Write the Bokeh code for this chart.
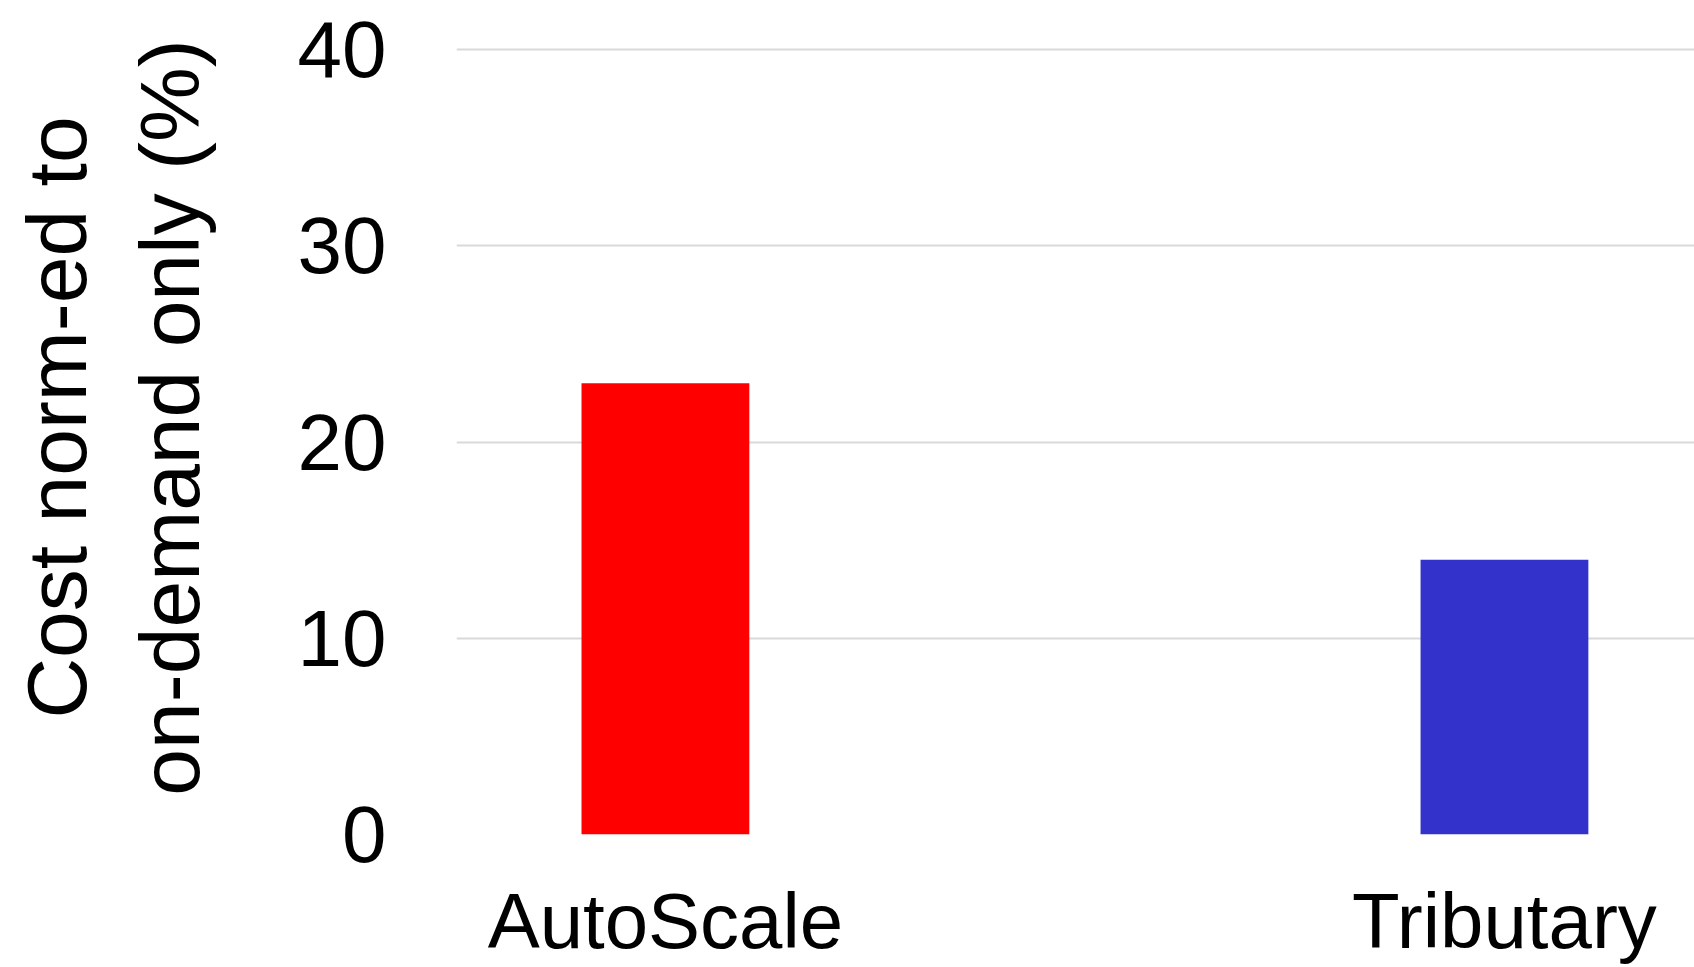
from bokeh.plotting import figure
from bokeh.models import ColumnDataSource, Range1d, FixedTicker
from bokeh.embed import file_html
from bokeh.resources import INLINE

categories = ["AutoScale", "Tributary"]
values = [23.0, 14.0]
colors = ["#ff0000", "#3333cc"]
y_ticks = [0, 10, 20, 30, 40]

xpos = list(range(len(categories)))
src = ColumnDataSource(dict(x=xpos, top=values, color=colors, name=categories))

p = figure(width=1694, height=967, output_backend="svg", toolbar_location=None,
           x_range=Range1d(-0.249, 1.2265), y_range=Range1d(0, 42.5),
           min_border_left=456, min_border_right=0, min_border_top=0, min_border_bottom=133)
p.vbar(x="x", top="top", bottom=0, width=0.2, color="color", source=src, line_color=None)

p.outline_line_color = None
p.background_fill_color = "white"
p.xgrid.grid_line_color = None
p.ygrid.grid_line_color = "#d9d9d9"
p.ygrid.grid_line_width = 2
p.ygrid.ticker = FixedTicker(ticks=y_ticks)

p.yaxis.ticker = FixedTicker(ticks=y_ticks)
p.yaxis.axis_line_color = None
p.yaxis.major_tick_line_color = None
p.yaxis.minor_tick_line_color = None
p.yaxis.major_tick_out = 0
p.yaxis.major_label_standoff = 70
p.yaxis.major_label_text_font = "Liberation Sans"
p.yaxis.major_label_text_font_size = "80px"
p.yaxis.major_label_text_color = "black"
p.yaxis.axis_label = "Cost norm-ed to\non-demand only (%)"
p.yaxis.axis_label_text_font = "Liberation Sans"
p.yaxis.axis_label_text_font_style = "normal"
p.yaxis.axis_label_text_font_size = "84px"
p.yaxis.axis_label_text_color = "black"
p.yaxis.axis_label_standoff = 78

p.xaxis.ticker = FixedTicker(ticks=xpos)
p.xaxis.major_label_overrides = {i: c for i, c in zip(xpos, categories)}
p.xaxis.axis_line_color = None
p.xaxis.major_tick_line_color = None
p.xaxis.minor_tick_line_color = None
p.xaxis.major_tick_out = 0
p.xaxis.major_label_standoff = 42
p.xaxis.major_label_text_line_height = 1.0
p.xaxis.major_label_text_font = "Liberation Sans"
p.xaxis.major_label_text_font_size = "78px"
p.xaxis.major_label_text_color = "black"

open("out.html", "w").write(file_html(p, INLINE))
